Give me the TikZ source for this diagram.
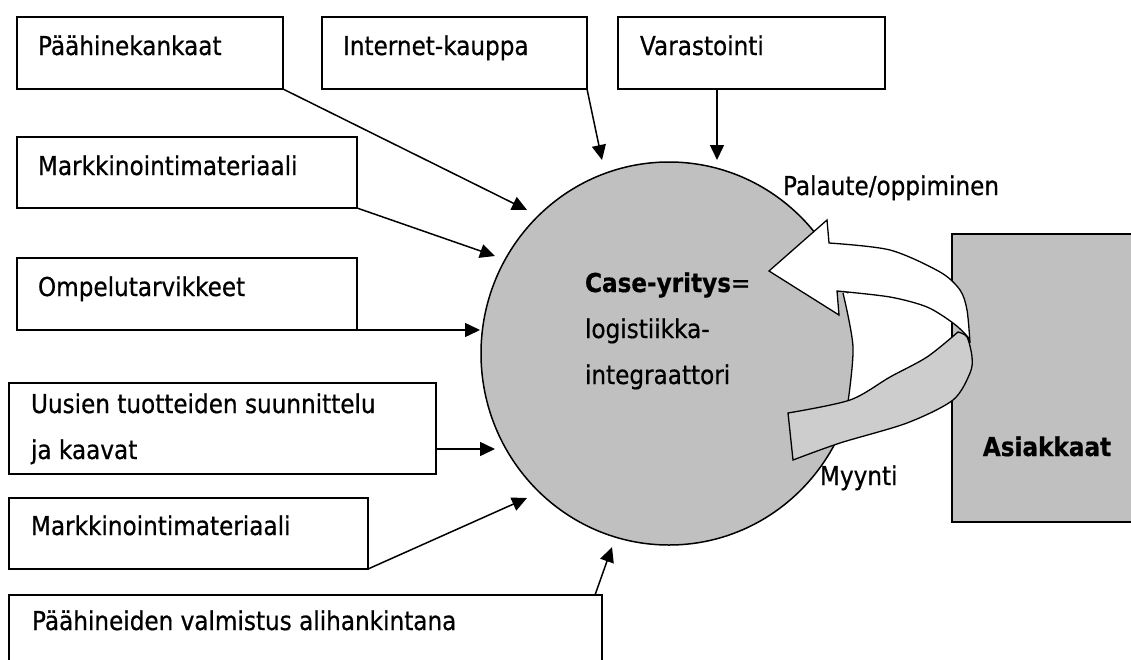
\documentclass[tikz,border=0pt]{standalone}
\usepackage{fontspec}
\setmainfont[FakeStretch=0.89,FakeBold=0.6]{DejaVu Sans}
\usetikzlibrary{arrows.meta,shapes.geometric,calc}
\definecolor{hubgray}{HTML}{C0C0C0}
\definecolor{bandgray}{HTML}{CDCDCD}

\begin{document}
\begin{tikzpicture}[x=1pt,y=-1pt,
  every node/.style={font=\fontsize{26}{30}\selectfont},
  infobox/.style={draw, line width=1.5pt, inner sep=0pt, outer sep=0pt, anchor=north west, fill=white},
  lbl/.style={anchor=base west, inner sep=0pt, outer sep=0pt},
  feed/.style={line width=1.5pt, -{Triangle[length=15pt,width=14pt]}},
  hub/.style={ellipse, draw, fill=hubgray, line width=1.5pt, inner sep=0pt, outer sep=0pt},
  ribbon/.style={draw, line width=1.3pt, line join=miter}
]
\useasboundingbox (0,0) rectangle (1131,659);
\clip (0,0) rectangle (1131,659);

% central actor
\node[hub, minimum width=376pt, minimum height=383pt] (hub) at (669,353.5) {};
\node[lbl] (hubA) at (585,292) {\textbf{Case-yritys}=};
\node[lbl] (hubB) at (585,338) {logistiikka-};
\node[lbl] (hubC) at (585,384) {integraattori};

% input boxes
\node[infobox, minimum width=266pt, minimum height=72pt] (b1) at (17,17) {};
\node[infobox, minimum width=265pt, minimum height=72pt] (b2) at (322,17) {};
\node[infobox, minimum width=267pt, minimum height=72pt] (b3) at (618,17) {};
\node[infobox, minimum width=340pt, minimum height=71pt] (b4) at (17,137) {};
\node[infobox, minimum width=340pt, minimum height=72pt] (b5) at (17,258) {};
\node[infobox, minimum width=427pt, minimum height=91pt] (b6) at (9,383) {};
\node[infobox, minimum width=359pt, minimum height=71pt] (b7) at (9,498) {};
\node[infobox, minimum width=593pt, minimum height=110pt] (b8) at (9,595) {};

\node[lbl] (t1) at (38,55) {Päähinekankaat};
\node[lbl] (t2) at (343,55) {Internet-kauppa};
\node[lbl] (t3) at (640,55) {Varastointi};
\node[lbl] (t4) at (38,175) {Markkinointimateriaali};
\node[lbl] (t5) at (38,296) {Ompelutarvikkeet};
\node[lbl] (t6a) at (31,413) {Uusien tuotteiden suunnittelu};
\node[lbl] (t6b) at (31,459) {ja kaavat};
\node[lbl] (t7) at (31,535) {Markkinointimateriaali};
\node[lbl] (t8) at (32,630) {Päähineiden valmistus alihankintana};

% arrow ends near the actor
\coordinate (e1) at (527,210);
\coordinate (e2) at (602,160);
\coordinate (e3) at (717,160);
\coordinate (e4) at (495,256);
\coordinate (e5) at (480,330);
\coordinate (e6) at (495,449);
\coordinate (e7) at (527,498);
\coordinate (e8) at (612,547);

\draw[feed] (b1.south east) -- (e1);
\draw[feed] (b2.south east) -- (e2);
\draw[feed] ($(b3.south west)+(99,0)$) -- (e3);
\draw[feed] (b4.south east) -- (e4);
\draw[feed] (b5.south east) -- (e5);
\draw[feed] ($(b6.south east)+(0,-25)$) -- (e6);
\draw[feed] (b7.south east) -- (e7);
\draw[feed] ($(b8.north east)+(-7,0)$) -- (e8);

% inner face of the feedback loop
\path[fill=white] plot[smooth] coordinates {(843,293) (853,347) (848,402)}
  -- plot[smooth] coordinates {(848,402) (890,377) (927,357) (958,332)}
  -- plot[smooth] coordinates {(958,332) (953,323) (927,307) (890,297) (843,293)} -- cycle;
\draw[line width=1.3pt] plot[smooth] coordinates {(843,293) (853,347) (848,402)};

% customers
\node[draw, fill=hubgray, line width=1.5pt, inner sep=0pt, outer sep=0pt, anchor=north west,
      minimum width=300pt, minimum height=288pt] (asi) at (952,234) {};
\node[anchor=base, inner sep=0pt] (asiT) at (1047,456) {\textbf{Asiakkaat}};

% sales band (back face of the ribbon)
\path[ribbon, fill=bandgray] plot[smooth] coordinates {(788,413) (850,400) (890,377) (927,357) (958,332)}
  -- plot[smooth] coordinates {(958,332) (967,337) (972,357) (970,373) (953,400) (907,423) (840,443) (793,460)}
  -- cycle;

% feedback band with arrow head
\path[ribbon, fill=white] (769,271) -- (827,220) -- (829,243)
  -- plot[smooth] coordinates {(829,243) (890,250) (940,272) (960,290) (967,310) (970,343)}
  -- plot[smooth] coordinates {(970,343) (967,336) (953,323) (927,307) (890,297) (837,291)}
  -- (839,315) -- cycle;

\node[lbl] (fb) at (783,195) {Palaute/oppiminen};
\node[lbl] (my) at (820,485) {Myynti};
\end{tikzpicture}
\end{document}
